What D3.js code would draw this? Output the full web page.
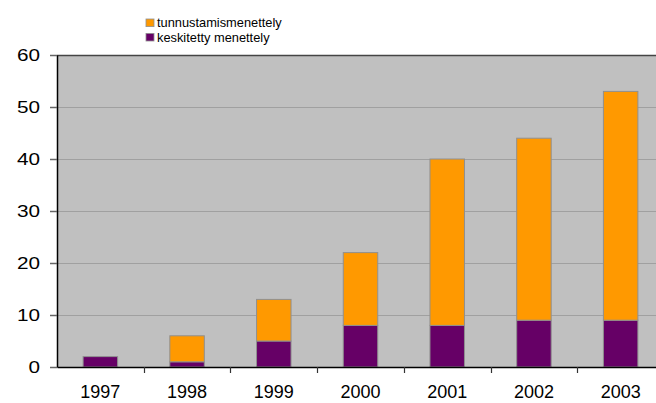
<!DOCTYPE html>
<html>
<head>
<meta charset="utf-8">
<script src="https://cdn.jsdelivr.net/npm/d3@7"></script>
<style>
  html, body { margin: 0; padding: 0; background: #fff; }
  svg { display: block; font-family: Arial, "Liberation Sans", sans-serif; }
</style>
</head>
<body>
<svg id="chart" width="656" height="403"></svg>
<script>
// Years on the category axis
const years = ["1997", "1998", "1999", "2000", "2001", "2002", "2003"];
// Series values per year
const keskitetty = [2, 1, 5, 8, 8, 9, 9];
const tunnustamis = [0, 5, 8, 14, 32, 35, 44];
// Series names and colours
const seriesNames = ["keskitetty menettely", "tunnustamismenettely"];
const seriesColors = ["#660066", "#FF9900"];
// Value axis ticks
const yTicks = [0, 10, 20, 30, 40, 50, 60];

const svg = d3.select("#chart");
const plot = { left: 57, top: 55, right: 664, bottom: 367 };

const x = d3.scaleBand().domain(years).range([plot.left, plot.right]).paddingInner(0).paddingOuter(0);
const y = d3.scaleLinear().domain([0, 60]).range([plot.bottom, plot.top]);

// Plot background
svg.append("rect")
  .attr("x", plot.left).attr("y", plot.top)
  .attr("width", plot.right - plot.left).attr("height", plot.bottom - plot.top)
  .attr("fill", "#C0C0C0");

// Gridlines
svg.append("g").selectAll("line").data(yTicks.filter(d => d > 0 && d < 60)).join("line")
  .attr("x1", plot.left).attr("x2", plot.right)
  .attr("y1", d => Math.round(y(d)) + 0.5).attr("y2", d => Math.round(y(d)) + 0.5)
  .attr("stroke", "#A0A0A0").attr("stroke-width", 1);

// Top border
svg.append("line")
  .attr("x1", plot.left).attr("x2", plot.right)
  .attr("y1", plot.top + 0.5).attr("y2", plot.top + 0.5)
  .attr("stroke", "#444").attr("stroke-width", 1.5);

// Stacked bars
const rows = years.map((yr, i) => ({ year: yr, keskitetty: keskitetty[i], tunnustamis: tunnustamis[i] }));
const stack = d3.stack().keys(["keskitetty", "tunnustamis"])(rows);
const barW = 34.5;

svg.append("g").selectAll("g").data(stack).join("g")
  .attr("fill", (d, i) => seriesColors[i])
  .selectAll("rect").data(d => d.filter(p => p[1] - p[0] > 0)).join("rect")
  .attr("x", d => x(d.data.year) + x.bandwidth() / 2 - barW / 2)
  .attr("width", barW)
  .attr("y", d => y(d[1]))
  .attr("height", d => y(d[0]) - y(d[1]))
  .attr("stroke", "#909090").attr("stroke-width", 1);

// Value axis (labels drawn slightly wide)
const yAxis = svg.append("g").attr("transform", `translate(${plot.left},0)`)
  .call(d3.axisLeft(y).tickValues(yTicks).tickSize(7).tickPadding(9).tickSizeOuter(0));
yAxis.select(".domain").attr("stroke", "#000").attr("stroke-width", 1.5);
yAxis.selectAll(".tick line").attr("stroke", "#666").attr("stroke-width", 1.5);
yAxis.selectAll("text")
  .attr("x", 0)
  .attr("transform", "translate(-17,0) scale(1.22,1)")
  .attr("font-size", 17).attr("fill", "#000")
  .attr("font-family", "Arial, 'Liberation Sans', sans-serif");

// Category axis
const xAxis = svg.append("g").attr("transform", `translate(0,${plot.bottom})`)
  .call(d3.axisBottom(x).tickSize(0).tickPadding(18));
xAxis.select(".domain").attr("stroke", "#000").attr("stroke-width", 1.5);
xAxis.selectAll("text").attr("font-size", 18).attr("fill", "#000")
  .attr("font-family", "Arial, 'Liberation Sans', sans-serif");
// Tick marks between categories
svg.append("g").selectAll("line").data(years.slice(1)).join("line")
  .attr("x1", d => Math.round(x(d)) + 0.5).attr("x2", d => Math.round(x(d)) + 0.5)
  .attr("y1", plot.bottom).attr("y2", plot.bottom + 6)
  .attr("stroke", "#333").attr("stroke-width", 1.2);

// Legend
const legendItems = [
  { name: seriesNames[1], color: seriesColors[1] },
  { name: seriesNames[0], color: seriesColors[0] }
];
const legend = svg.append("g").attr("transform", "translate(146,19)");
const li = legend.selectAll("g").data(legendItems).join("g")
  .attr("transform", (d, i) => `translate(0,${i * 14.4})`);
li.append("rect").attr("width", 8).attr("height", 7.6)
  .attr("fill", d => d.color).attr("stroke", "#909090").attr("stroke-width", 0.8);
li.append("text")
  .attr("transform", "translate(11,8.3) scale(1.07,1)")
  .attr("font-size", 12).attr("fill", "#000").text(d => d.name);
</script>
</body>
</html>
